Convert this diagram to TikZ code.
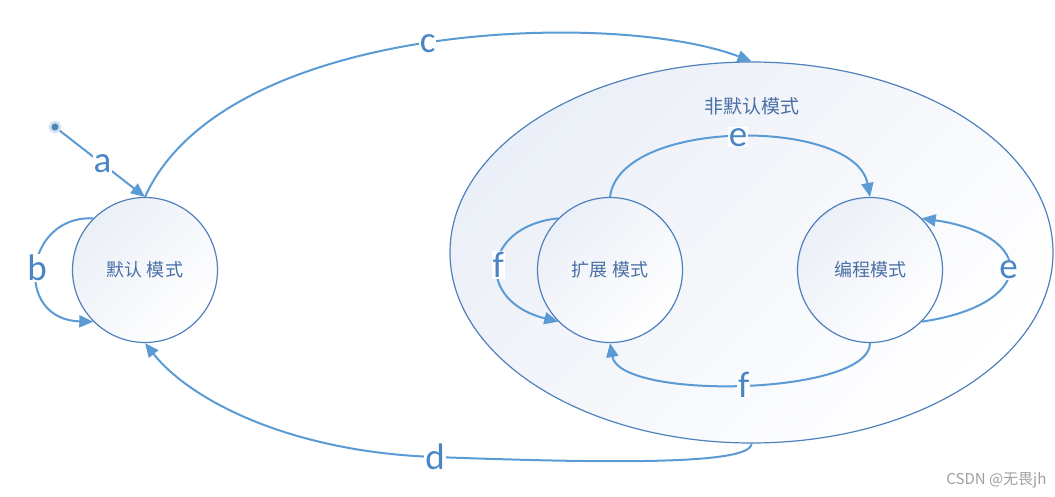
\documentclass[tikz,border=0pt]{standalone}
\usepackage{fontspec}
\newfontfamily\cjk{Noto Sans CJK SC}
\newfontfamily\lat{Carlito}
\usetikzlibrary{positioning, arrows.meta, shapes.geometric}
\definecolor{wire}{HTML}{5B9BD5}
\definecolor{rim}{HTML}{4F81BD}
\definecolor{ink}{HTML}{4A6FA5}
\definecolor{letter}{HTML}{4A86C5}
\definecolor{tint}{HTML}{EBEFF7}
\tikzset{dot/.style={circle, fill=wire!85!black, draw=wire!30, line width=2.5pt, inner sep=0, minimum size=10pt}}
\tikzset{mode/.style={circle, draw=rim, line width=1.2pt, minimum size=145pt, inner sep=0,
    top color=tint, bottom color=white, shading angle=45,
    font=\cjk\fontsize{18}{18}\selectfont, text=ink}}
\tikzset{link/.style={draw=wire, line width=2pt, -{Triangle[length=14pt,width=12pt]}}}
\tikzset{lbl/.style={fill=white, inner sep=1pt, text=letter, font=\lat\fontsize{37}{37}\selectfont}}

\begin{document}
\begin{tikzpicture}[x=1pt, y=-1pt]
  \useasboundingbox (0,0) rectangle (1055,497);

  % ---- the outer state, holding the two non-default modes
  \node[ellipse, draw=rim, line width=1.2pt, minimum width=603pt, minimum height=381pt,
        top color=tint, bottom color=white, shading angle=45] at (751.5,252.5) (nd) {};
  \node[below=36pt of nd.north, inner sep=0, font=\cjk\fontsize{19}{19}\selectfont, text=ink] (ndname) {非默认模式};

  % ---- the three modes
  \node[mode] at (145,270) (def) {默认 模式};
  \node[mode] at (610,270) (ext) {扩展 模式};
  \node[mode] at (870,270) (prg) {编程模式};

  % ---- start
  \node[dot] at (55,127) (src) {};
  \draw[link] (src) -- node[lbl]{a} (def.north);

  % ================= default mode ==============================================
  \draw[link] (def.135) .. controls +(-70,-3) and +(-80,-2) .. node[lbl, pos=.5]{b} (def.225);
  \draw[link] (def.north) .. controls +(80,-177) and +(-135,-52) .. node[lbl, pos=.5]{c} (nd.north);

  % ================= back to default ===========================================
  \coordinate (dbend) at (435,457);
  \draw[link] (nd.south) .. controls +(0,22) and +(165,6) .. (dbend)
    node[lbl]{d} .. controls +(-145,-5) and +(45,57) .. (def.south);

  % ================= inside the non-default modes ==============================
  \draw[link] (ext.north) .. controls +(10,-79.5) and +(-15,-79.5) .. node[lbl, pos=.5]{e} (prg.north);
  \draw[link] (prg.south) .. controls +(0,52.5) and +(10,57.5) .. node[lbl, pos=.5]{f} (ext.south);
  \draw[link] (ext.135) .. controls +(-76,8) and +(-84,-21) .. node[lbl, pos=.5]{f} (ext.225);
  \draw[link] (prg.315) .. controls +(116,-17) and +(116,17) .. node[lbl, pos=.5]{e} (prg.45);

  \node[anchor=east, font=\cjk\fontsize{15}{15}\selectfont, text=gray!75] at (1050,480) (mark) {CSDN @无畏jh};
\end{tikzpicture}
\end{document}
